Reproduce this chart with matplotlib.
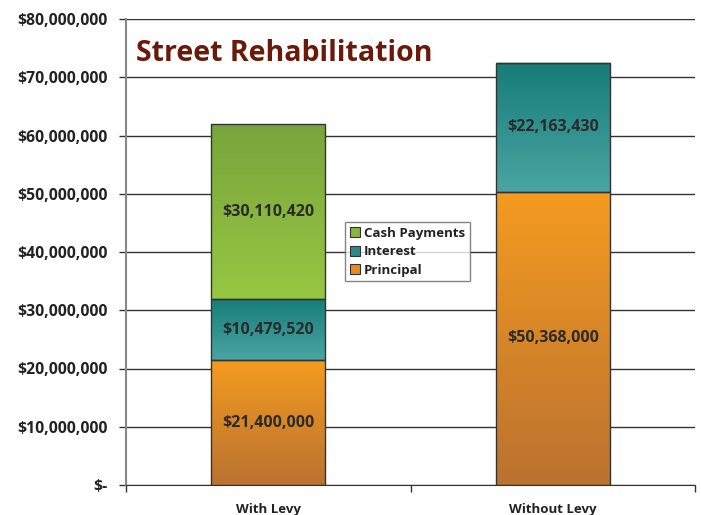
import matplotlib
matplotlib.use("Agg")
import matplotlib.pyplot as plt
import numpy as np
from matplotlib.colors import LinearSegmentedColormap
from matplotlib.patches import Patch
from matplotlib.ticker import FuncFormatter, MultipleLocator, FixedLocator

plt.rcParams['font.family'] = ['Open Sans', 'DejaVu Sans']

categories = ["With Levy", "Without Levy"]
series = ["Principal", "Interest", "Cash Payments"]
principal = [21400000, 50368000]
interest = [10479520, 22163430]
cash = [30110420, 0]
values = [principal, interest, cash]
labels_txt = [["$21,400,000", "$50,368,000"],
              ["$10,479,520", "$22,163,430"],
              ["$30,110,420", None]]
title = "Street Rehabilitation"

# gradient colors (top, bottom)
grad = {
    "Principal": ("#F49B20", "#BA7230"),
    "Interest": ("#167C78", "#4AA5A3"),
    "Cash Payments": ("#79A43C", "#97C642"),
}
legend_colors = {"Principal": "#E98A22", "Interest": "#2A8C8A", "Cash Payments": "#88B53F"}

fig = plt.figure(figsize=(7.01, 5.15), dpi=100)
ax = fig.add_axes([126/701, 1-485/515, (695-126)/701, (485-19)/515])

x = np.arange(len(categories))
width = 0.4
bottoms = np.zeros(len(categories))
for s, vals, labs in zip(series, values, labels_txt):
    vals = np.array(vals, dtype=float)
    bars = ax.bar(x, vals, width, bottom=bottoms, facecolor="none",
                  edgecolor="#333333", linewidth=1.0, zorder=3)
    top_c, bot_c = grad[s]
    cmap = LinearSegmentedColormap.from_list(s, [bot_c, top_c])
    for b, v, lab in zip(bars, vals, labs):
        if v <= 0:
            continue
        x0, y0 = b.get_x(), b.get_y()
        w, h = b.get_width(), b.get_height()
        img = ax.imshow(np.linspace(0, 1, 256).reshape(-1, 1), cmap=cmap,
                        origin="lower", extent=[x0, x0 + w, y0, y0 + h],
                        aspect="auto", zorder=2, interpolation="bilinear")
        img.set_clip_path(b)
        if lab:
            ax.text(x0 + w / 2, y0 + h / 2, lab, ha="center", va="center",
                    fontsize=11.5, fontweight="bold", color="#2b2b2b", zorder=4)
    bottoms += vals

ax.set_xlim(-0.5, 1.5)
ax.set_ylim(0, 80000000)
ax.yaxis.set_major_locator(MultipleLocator(10000000))
ax.yaxis.set_major_formatter(FuncFormatter(lambda v, p: "$-" if v == 0 else "${:,.0f}".format(v)))
ax.grid(axis="y", color="#333333", linewidth=1.0, zorder=1)
ax.set_axisbelow(True)

ax.set_xticks(x)
ax.set_xticklabels(categories, fontsize=9.5, fontweight="bold", color="#222222")
ax.xaxis.set_minor_locator(FixedLocator([-0.5, 0.5, 1.5]))
ax.tick_params(axis="x", which="major", length=0, pad=13)
ax.tick_params(axis="x", which="minor", length=5, color="#333333", width=1)
ax.tick_params(axis="y", which="major", length=5, color="#333333", width=1,
               labelsize=11.3, pad=8)
for lab in ax.get_yticklabels():
    lab.set_fontweight("bold")
    lab.set_color("#222222")

ax.spines["top"].set_visible(False)
ax.spines["right"].set_visible(False)
ax.spines["left"].set_color("#888888")
ax.spines["left"].set_linewidth(1.5)
ax.spines["bottom"].set_color("#333333")

ax.text(0.018, 0.925, title, transform=ax.transAxes, fontsize=20.5,
        fontweight="bold", color="#6B1A0A", ha="left", va="center", zorder=5)

handles = [Patch(facecolor=legend_colors[s], edgecolor="#333333", linewidth=0.8)
           for s in series[::-1]]
leg = ax.legend(handles, series[::-1], loc="upper left",
                bbox_to_anchor=((345-126)/569, 1-(222-19)/466),
                fontsize=9.5, frameon=True, fancybox=False, edgecolor="#666666",
                handlelength=0.8, handleheight=0.8, handletextpad=0.3,
                labelspacing=0.42, borderpad=0.35, borderaxespad=0)
leg.get_frame().set_linewidth(1.0)
for t in leg.get_texts():
    t.set_fontweight("bold")
    t.set_color("#222222")
leg.set_zorder(6)

fig.savefig("out.png", dpi=100)
